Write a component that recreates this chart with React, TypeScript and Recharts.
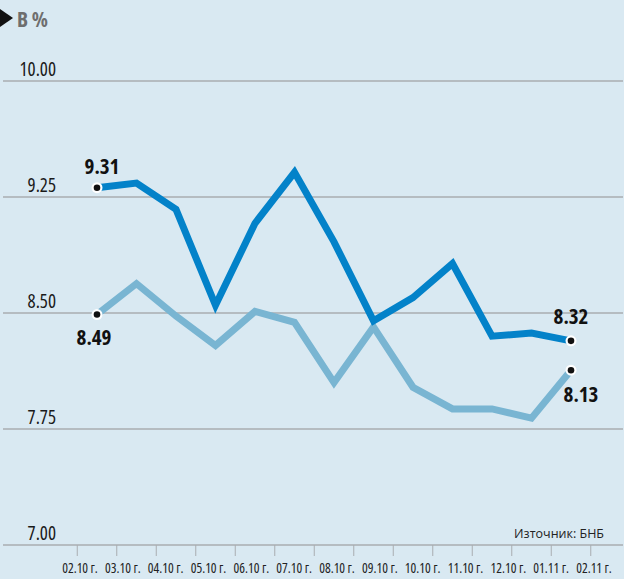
import { LineChart, Line, XAxis, YAxis, CartesianGrid } from 'recharts';

const dates = [
  '02.10 г.', '03.10 г.', '04.10 г.', '05.10 г.', '06.10 г.', '07.10 г.', '08.10 г.',
  '09.10 г.', '10.10 г.', '11.10 г.', '12.10 г.', '01.11 г.', '02.11 г.',
];
const darkSeries = [9.31, 9.34, 9.17, 8.55, 9.08, 9.41, 8.96, 8.45, 8.6, 8.82, 8.35, 8.37, 8.32];
const lightSeries = [8.49, 8.69, 8.48, 8.29, 8.51, 8.44, 8.05, 8.41, 8.02, 7.88, 7.88, 7.82, 8.13];
const yTicks = [7, 7.75, 8.5, 9.25, 10];

const data = dates.map((date, i) => ({ date, dark: darkSeries[i], light: lightSeries[i] }));

const FONT = '"Open Sans", "DejaVu Sans", sans-serif';
const W = 633;
const H = 579;
const BG = '#d9e9f2';
const GRID = '#a9adb1';
const STEP = 39.5;

const txt = { fontFamily: FONT, fontStretch: 'condensed' } as const;
const txtNormal = { fontFamily: FONT } as const;

const YTick = (props: any) => {
  const { x, y, payload } = props;
  return (
    <text x={x + 53} y={y - 5} textAnchor="end" style={txt} fontSize={19} fill="#1a1a1a">
      {payload.value.toFixed(2)}
    </text>
  );
};

const TickMark = (props: any) => {
  const { x, y, index } = props;
  return (
    <g>
      <line x1={x - STEP / 2} x2={x - STEP / 2} y1={y} y2={y + 11} stroke={GRID} strokeWidth={1} />
      {index === dates.length - 1 && (
        <line x1={x + STEP / 2} x2={x + STEP / 2} y1={y} y2={y + 11} stroke={GRID} strokeWidth={1} />
      )}
    </g>
  );
};

const DateTick = (props: any) => {
  const { x, y, payload } = props;
  return (
    <text x={x} y={y + 27} textAnchor="middle" style={txt} fontSize={13.5} fill="#222">
      {payload.value}
    </text>
  );
};

const makeDot = (pos: 'above' | 'below') => (props: any) => {
  const { cx, cy, index, value } = props;
  const last = index === dates.length - 1;
  if (index !== 0 && !last) return <g key={`d-${index}`} />;
  let dx = 0;
  let dy = 0;
  if (pos === 'above') {
    dx = last ? 0 : 5;
    dy = last ? -17 : -14;
  } else {
    dx = last ? 10 : -3;
    dy = last ? 32 : 30;
  }
  const v = Array.isArray(value) ? value[1] : value;
  return (
    <g key={`d-${index}`}>
      <circle cx={cx} cy={cy} r={5.5} fill="#fff" />
      <circle cx={cx} cy={cy} r={3.3} fill="#111" />
      <text x={cx + dx} y={cy + dy} textAnchor="middle" style={txt} fontWeight={700} fontSize={21} fill="#111">
        {Number(v).toFixed(2)}
      </text>
    </g>
  );
};

export default function App() {
  return (
    <div style={{ position: 'absolute', left: 0, top: 0, width: W, height: H, background: '#fff' }}>
      <div style={{ position: 'absolute', left: 0, top: 0, width: 624, height: H, background: BG }} />
      <div style={{ position: 'absolute', left: 0, top: 0 }}>
        <LineChart width={W} height={H} data={data} margin={{ top: 81, right: 10, bottom: 0, left: 2 }}>
          <CartesianGrid vertical={false} stroke={GRID} strokeWidth={1.3} />
          <YAxis
            domain={[7, 10]}
            ticks={yTicks}
            width={1}
            axisLine={false}
            tickLine={false}
            tickSize={0}
            tickMargin={0}
            tick={<YTick />}
            interval={0}
          />
          <XAxis
            xAxisId="a"
            dataKey="date"
            height={1}
            padding={{ left: 94, right: 52 }}
            axisLine={false}
            tickLine={false}
            tickSize={0}
            tickMargin={0}
            interval={0}
            tick={<TickMark />}
          />
          <XAxis
            xAxisId="b"
            dataKey="date"
            height={33}
            padding={{ left: 77, right: 29 }}
            axisLine={false}
            tickLine={false}
            tickSize={0}
            tickMargin={0}
            interval={0}
            tick={<DateTick />}
          />
          <Line
            xAxisId="a"
            dataKey="light"
            stroke="#79b5d2"
            strokeWidth={7}
            dot={makeDot('below')}
            activeDot={false}
            isAnimationActive={false}
          />
          <Line
            xAxisId="a"
            dataKey="dark"
            stroke="#0382c9"
            strokeWidth={7}
            dot={makeDot('above')}
            activeDot={false}
            isAnimationActive={false}
          />
        </LineChart>
      </div>
      <svg width={W} height={H} style={{ position: 'absolute', left: 0, top: 0, pointerEvents: 'none' }}>
        <polygon points="0,9 13,18 0,27" fill="#111" />
        <text x={17} y={27} style={txt} fontWeight={700} fontSize={21} fill="#6e6e6e">
          В %
        </text>
        <text x={604} y={538} textAnchor="end" style={txtNormal} fontWeight={500} fontSize={12.5} fill="#222">
          Източник: БНБ
        </text>
      </svg>
    </div>
  );
}
